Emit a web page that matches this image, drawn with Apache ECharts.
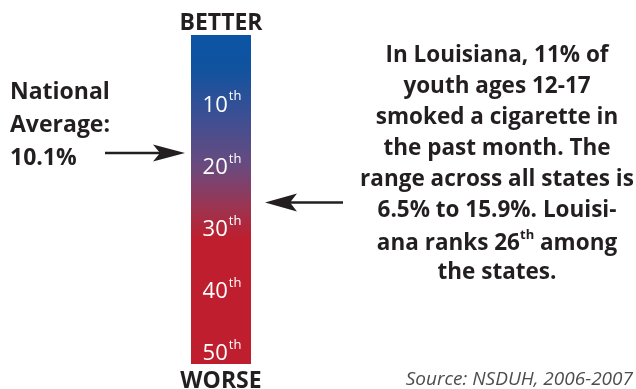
<!DOCTYPE html>
<html><head><meta charset="utf-8">
<script src="https://cdn.jsdelivr.net/npm/echarts@6/dist/echarts.min.js"></script>
<style>html,body{margin:0;padding:0;background:#fff}#c{width:636px;height:389px}</style>
</head><body><div id="c"></div>
<script>
// ---- data ----
const rankTicks = [10, 20, 30, 40, 50];
const rankRange = [-1, 52];
const nationalAverageRank = 18;
const louisianaRank = 26;
const topLabel = 'BETTER';
const bottomLabel = 'WORSE';
const leftLines = ['National', 'Average:', '10.1%'];
const rightLines = [
  'In Louisiana, 11% of',
  'youth ages 12-17',
  'smoked a cigarette in',
  'the past month. The',
  'range across all states is',
  '6.5% to 15.9%. Louisi-',
  ['ana ranks 26', 'th', ' among'],
  'the states.'
];
const sourceText = 'Source: NSDUH, 2006-2007';

// ---- chart ----
const FONT = '"Open Sans", "DejaVu Sans", sans-serif';
const DARK = '#231f20';
const chart = echarts.init(document.getElementById('c'), null, {renderer: 'canvas'});

const grad = () => new echarts.graphic.LinearGradient(0, 0, 0, 1, [
  {offset: 0, color: '#0b55a5'},
  {offset: 0.10, color: '#10539f'},
  {offset: 0.25, color: '#3d4f93'},
  {offset: 0.40, color: '#6a4a7e'},
  {offset: 0.52, color: '#9a3552'},
  {offset: 0.62, color: '#be1e2d'},
  {offset: 1, color: '#be1e2d'}
]);

chart.setOption({
  animation: false,
  grid: {left: 191, top: 35, width: 60, height: 329, containLabel: false},
  xAxis: {type: 'category', data: ['rank'], show: false, boundaryGap: true},
  yAxis: {type: 'value', inverse: true, min: rankRange[0], max: rankRange[1], show: false},
  series: [
    {
      type: 'custom',
      silent: true,
      data: [[0, rankRange[0], rankRange[1]]],
      renderItem: (params, api) => {
        const p1 = api.coord([api.value(0), api.value(1)]);
        const p2 = api.coord([api.value(0), api.value(2)]);
        const w = api.size([1, 0])[0];
        return {
          type: 'rect',
          shape: {x: p1[0] - w / 2, y: Math.min(p1[1], p2[1]), width: w, height: Math.abs(p2[1] - p1[1])},
          style: {fill: grad()}
        };
      }
    }
  ]
});

const yNat = chart.convertToPixel({yAxisIndex: 0}, nationalAverageRank);
const yLa = chart.convertToPixel({yAxisIndex: 0}, louisianaRank);
const xBar = chart.convertToPixel({xAxisIndex: 0}, 0);

const g = [];
// rank labels placed through the y axis scale
rankTicks.forEach(r => {
  const y = chart.convertToPixel({yAxisIndex: 0}, r);
  g.push({type: 'text', z: 10, style: {x: xBar + 1, y: y, text: '{n|' + r + '}{s|th}', textAlign: 'center', textVerticalAlign: 'middle',
    rich: {
      n: {fontFamily: FONT, fontSize: 22, fill: '#ffffff', lineHeight: 26, verticalAlign: 'bottom'},
      s: {fontFamily: FONT, fontSize: 13, fill: '#ffffff', lineHeight: 26, verticalAlign: 'top', padding: [0, 0, 0, 1]}
    }}});
});
g.push({type: 'text', style: {x: xBar, y: 23, text: topLabel, textAlign: 'center', textVerticalAlign: 'middle', font: 'bold 23px ' + FONT, fill: DARK}});
g.push({type: 'text', style: {x: xBar, y: 381, text: bottomLabel, textAlign: 'center', textVerticalAlign: 'middle', font: 'bold 23px ' + FONT, fill: DARK}});
leftLines.forEach((t, i) => {
  g.push({type: 'text', style: {x: 10, y: 92 + i * 33, text: t, textAlign: 'left', textVerticalAlign: 'middle', font: 'bold 23px ' + FONT, fill: DARK}});
});
rightLines.forEach((t, i) => {
  const y = 56 + i * 31;
  if (Array.isArray(t)) {
    g.push({type: 'text', style: {x: 497, y: y, text: '{a|' + t[0] + '}{s|' + t[1] + '}{a|' + t[2] + '}', textAlign: 'center', textVerticalAlign: 'middle',
      rich: {a: {font: 'bold 22.5px ' + FONT, fill: DARK, lineHeight: 26, verticalAlign: 'bottom'}, s: {font: 'bold 13px ' + FONT, fill: DARK, lineHeight: 26, verticalAlign: 'top'}}}});
  } else {
    g.push({type: 'text', style: {x: 497, y: y, text: t, textAlign: 'center', textVerticalAlign: 'middle', font: 'bold 22.5px ' + FONT, fill: DARK}});
  }
});
g.push({type: 'text', style: {x: 633, y: 380, text: sourceText, textAlign: 'right', textVerticalAlign: 'middle', font: 'italic 19px ' + FONT, fill: '#4d4d4d'}});

// arrows
g.push({type: 'line', shape: {x1: 105, y1: yNat, x2: 165, y2: yNat}, style: {stroke: DARK, lineWidth: 2.5}});
g.push({type: 'polygon', shape: {points: [[185, yNat], [153, yNat - 8.5], [160, yNat], [153, yNat + 8.5]]}, style: {fill: DARK}});
g.push({type: 'line', shape: {x1: 285, y1: yLa, x2: 343, y2: yLa}, style: {stroke: DARK, lineWidth: 2.5}});
g.push({type: 'polygon', shape: {points: [[265, yLa], [297, yLa - 9], [290, yLa], [297, yLa + 9]]}, style: {fill: DARK}});

chart.setOption({graphic: g});
</script>
</body></html>
